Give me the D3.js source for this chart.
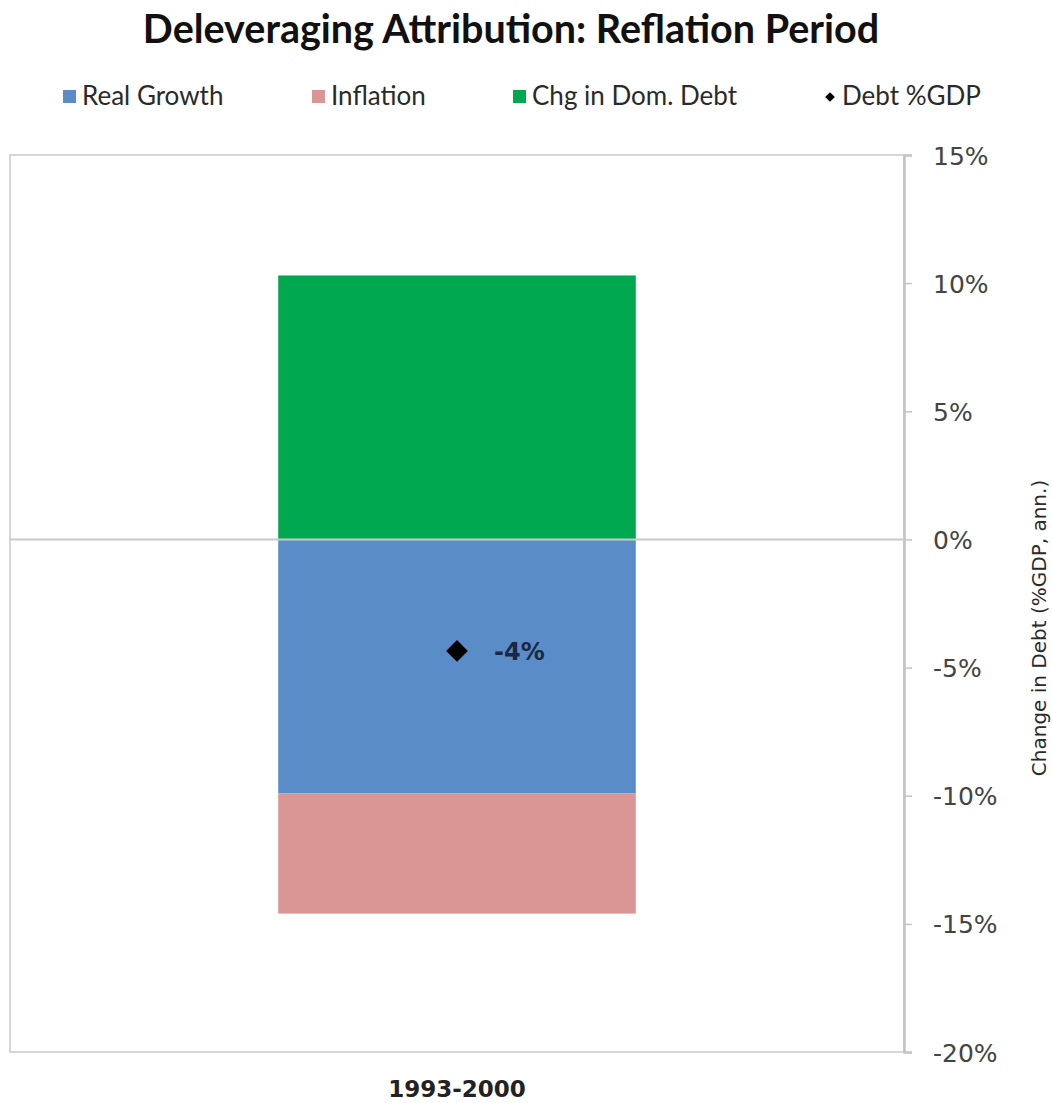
<!DOCTYPE html>
<html><head><meta charset="utf-8">
<script src="https://cdn.jsdelivr.net/npm/d3@7"></script>
<style>body{margin:0;background:#fff}svg{display:block}</style>
</head><body>
<svg id="c" width="1052" height="1103"></svg>
<script>
const categories = ["1993-2000"];
const realGrowth = [-9.9];
const inflation = [-4.7];
const chgDomDebt = [10.3];
const debtGDP = [-4.35];
const debtLabels = ["-4%"];
const seriesNames = ["Real Growth", "Inflation", "Chg in Dom. Debt"];
const seriesColors = ["#5a8cc7", "#d99694", "#00a94f"];
const yTicks = [15, 10, 5, 0, -5, -10, -15, -20];

const svg = d3.select("#c");
const L = 10, R = 904, T = 155, B = 1052;
const y = d3.scaleLinear().domain([-20, 15]).range([B, T]);
const x = d3.scaleBand().domain(categories).range([L, R]).paddingInner(0.4286).paddingOuter(0.4286);

const rows = categories.map((c, i) => ({cat: c, "Real Growth": realGrowth[i], "Inflation": inflation[i], "Chg in Dom. Debt": chgDomDebt[i]}));
const stacked = d3.stack().keys(seriesNames).offset(d3.stackOffsetDiverging)(rows);

// plot border
svg.append("rect").attr("x", L).attr("y", T).attr("width", R - L).attr("height", B - T)
  .attr("fill", "none").attr("stroke", "#d6d6d6").attr("stroke-width", 2);

// bars
stacked.forEach((s, si) => {
  svg.append("g").selectAll("rect").data(s).join("rect")
    .attr("x", d => x(d.data.cat))
    .attr("width", x.bandwidth())
    .attr("y", d => y(Math.max(d[0], d[1])))
    .attr("height", d => Math.abs(y(d[0]) - y(d[1])))
    .attr("fill", seriesColors[si]);
});

// zero line
svg.append("line").attr("x1", L).attr("x2", R).attr("y1", y(0)).attr("y2", y(0))
  .attr("stroke", "#c9c9c9").attr("stroke-width", 2);

// y axis
const ax = svg.append("g").attr("transform", `translate(${R},0)`)
  .call(d3.axisRight(y).tickValues(yTicks).tickSize(8).tickPadding(21).tickFormat(d => d + "%"));
ax.select(".domain").attr("stroke", "#c4c4c4").attr("stroke-width", 2.5);
ax.selectAll(".tick line").attr("stroke", "#c4c4c4").attr("stroke-width", 1.5);
ax.selectAll(".tick text").attr("fill", "#444").style("font-family", "'DejaVu Sans', sans-serif")
  .style("font-size", "25px").attr("dy", "0.36em");

// y axis title
svg.append("text").attr("transform", `translate(1046,628) rotate(-90)`)
  .attr("text-anchor", "middle").attr("fill", "#2a2a2a")
  .style("font-family", "'DejaVu Sans', sans-serif").style("font-size", "20px")
  .text("Change in Debt (%GDP, ann.)");

// category label
svg.append("g").selectAll("text").data(categories).join("text")
  .attr("x", d => x(d) + x.bandwidth() / 2).attr("y", 1097)
  .attr("text-anchor", "middle").attr("fill", "#222")
  .style("font-family", "'DejaVu Sans', sans-serif").style("font-weight", "bold").style("font-size", "23px")
  .text(d => d);

// debt markers
const sym = d3.symbol().type(d3.symbolDiamond2).size(300);
svg.append("g").selectAll("path").data(categories).join("path")
  .attr("transform", (d, i) => `translate(${x(d) + x.bandwidth() / 2},${y(debtGDP[i])})`)
  .attr("d", sym).attr("fill", "#000");
svg.append("g").selectAll("text").data(categories).join("text")
  .attr("x", d => x(d) + x.bandwidth() / 2 + 37).attr("y", (d, i) => y(debtGDP[i]) + 9)
  .attr("fill", "#1b2842")
  .style("font-family", "'DejaVu Sans', sans-serif").style("font-weight", "bold").style("font-size", "24px")
  .text((d, i) => debtLabels[i]);

// title
svg.append("text").attr("x", 511).attr("y", 43).attr("text-anchor", "middle").attr("fill", "#111")
  .style("font-family", "Lato, sans-serif").style("font-weight", "bold").style("font-size", "39.5px")
  .text("Deleveraging Attribution: Reflation Period");

// legend
const legendItems = [
  {name: "Real Growth", color: seriesColors[0], x: 63, type: "sq"},
  {name: "Inflation", color: seriesColors[1], x: 312, type: "sq"},
  {name: "Chg in Dom. Debt", color: seriesColors[2], x: 513, type: "sq"},
  {name: "Debt %GDP", color: "#000", x: 825, type: "dia"}
];
const lg = svg.append("g");
legendItems.forEach(it => {
  if (it.type === "sq") {
    lg.append("rect").attr("x", it.x).attr("y", 90).attr("width", 13).attr("height", 13).attr("fill", it.color);
  } else {
    lg.append("path").attr("transform", `translate(${it.x + 5},97)`)
      .attr("d", d3.symbol().type(d3.symbolDiamond2).size(60)).attr("fill", it.color);
  }
  lg.append("text").attr("x", it.x + (it.type === "sq" ? 19 : 17)).attr("y", 105)
    .attr("fill", "#2a2a2a").style("font-family", "Lato, sans-serif").style("font-size", "26px")
    .text(it.name);
});
</script>
</body></html>
